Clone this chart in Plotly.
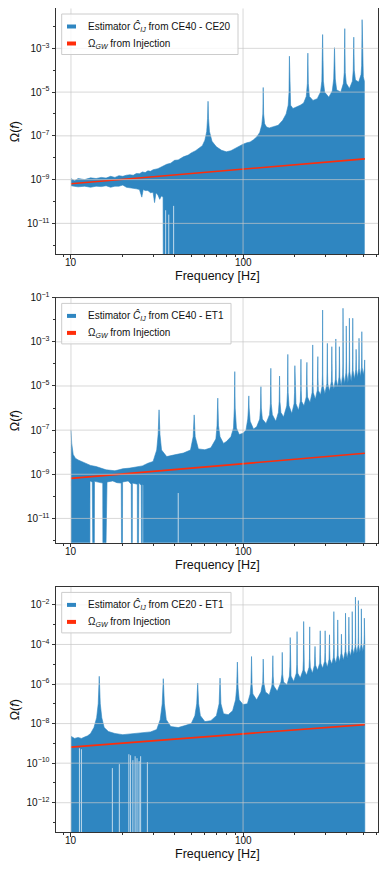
import numpy as np
import plotly.graph_objects as go
from plotly.subplots import make_subplots

# ---- data (frequency in Hz, log10 of Omega) ----
# floor value stands for negative estimates that drop off the log axis
FLOOR = -20

# CE40 - CE20
ce40_ce20_freq = [10, 10.5, 11, 12, 13, 14, 15, 16, 17, 18, 19, 20, 21, 22, 23, 24, 25, 26, 27, 28, 29, 30,
                  32, 34, 36, 38, 40, 42, 45, 48, 50, 53, 55, 58, 60, 61.5, 62.2, 62.6, 63.0, 63.8, 66, 70, 75,
                  80, 85, 90, 95, 100, 105, 110, 115, 120, 125, 128.5, 130.3, 131, 131.7, 133.5, 137, 142, 150,
                  160, 170, 178, 183, 185, 186, 187, 189, 195, 205, 215, 225, 233, 236.5, 238, 239.5, 243, 255,
                  270, 282, 287, 290, 293, 298, 315, 330, 336.5, 340, 343.5, 350, 370, 383, 387.5, 390, 392.5,
                  398, 415, 432, 437, 440, 443, 450, 470, 485, 489, 492, 495, 500, 507]
ce40_ce20_upper = [-8.95, -9.05, -8.95, -9.0, -8.92, -8.95, -8.9, -8.93, -8.85, -8.9, -8.82, -8.85, -8.8, -8.78,
                   -8.8, -8.72, -8.73, -8.65, -8.68, -8.6, -8.62, -8.55, -8.5, -8.4, -8.3, -8.25, -8.12, -8.1,
                   -7.96, -7.88, -7.78, -7.68, -7.6, -7.45, -7.2, -6.8, -6.2, -5.42, -6.2, -6.8, -7.25, -7.5,
                   -7.66, -7.73, -7.68, -7.58, -7.45, -7.38, -7.32, -7.28, -7.18, -7.05, -6.85, -6.5, -6.0,
                   -4.79, -6.0, -6.45, -6.6, -6.64, -6.58, -6.52, -6.29, -6.0, -5.6, -5.0, -3.36, -5.0, -5.6,
                   -5.75, -5.68, -5.6, -5.5, -5.2, -4.6, -3.22, -4.6, -5.2, -5.38, -5.3, -5.0, -4.5, -2.37,
                   -4.5, -5.0, -5.23, -4.95, -4.4, -2.97, -4.4, -4.9, -5.0, -4.6, -4.1, -2.10, -4.1, -4.6,
                   -4.84, -4.5, -4.0, -2.49, -4.0, -4.45, -4.54, -4.2, -3.8, -1.69, -3.8, -4.3, -4.5]
ce40_ce20_lower_freq = [10, 11, 12, 13, 14, 15, 16, 17, 18, 19, 20, 21, 22, 23, 24, 25, 25.8, 26.3, 27, 28,
                        29, 30, 30.6, 31.2, 32, 32.8, 33.5, 34.3, 34.6, 507]
ce40_ce20_lower = [-9.28, -9.33, -9.3, -9.35, -9.3, -9.32, -9.28, -9.35, -9.3, -9.3, -9.25, -9.35, -9.38,
                   -9.4, -9.42, -9.45, -9.8, -9.45, -9.5, -9.5, -9.6, -9.58, -10.05, -9.6, -9.7, -9.9, -9.75,
                   -9.8, FLOOR, FLOOR]
# thin empty slivers (single negative bins) inside the filled region
ce40_ce20_gap_freq = [35.5, 37.0, 39.5]
ce40_ce20_gap_top = [-10.4, -10.6, -10.2]

# CE40 - ET1
ce40_et1_freq = [10, 10.1, 10.3, 10.6, 11, 11.5, 12, 13, 14, 15, 16, 17, 18, 19, 20, 22, 24, 26, 28, 30,
                 31.5, 32.1, 32.5, 32.9, 33.6, 36, 40, 45, 49.5, 51.3, 52, 52.7, 55, 60, 65, 69.5, 70.6, 71.3,
                 72, 73.5, 77, 80, 85, 88, 89, 89.5, 90, 91.5, 95, 100, 104, 106.5, 107.5, 108, 108.5, 110,
                 115, 120, 125, 126.3, 127, 127.7, 129.5, 136, 142.5, 144.2, 145, 145.8, 148, 155, 160.5,
                 162.2, 163, 163.8, 166, 172, 179.5, 181.2, 182, 182.8, 185, 192, 198, 199.2, 200, 200.8, 203,
                 210, 215, 216.2, 217, 217.8, 219, 226, 233, 234.2, 235, 235.8, 237, 245, 252, 253.2, 254,
                 254.8, 256, 263, 270, 271.2, 272, 272.8, 274, 282, 288, 289.2, 290, 290.8, 292, 299, 307,
                 308.2, 309, 309.8, 311, 318, 326, 327.2, 328, 328.8, 330, 337, 344, 345.2, 346, 346.8, 348,
                 355, 361, 362.2, 363, 363.8, 365, 372, 379, 380.2, 381, 381.8, 383, 390, 396, 397.2, 398,
                 398.8, 400, 407, 413, 414.2, 415, 415.8, 417, 425, 432, 433.2, 434, 434.8, 436, 444, 452,
                 453.2, 454, 454.8, 456, 463, 470, 471.2, 472, 472.8, 474, 481, 488, 489.2, 490, 490.8, 492,
                 500, 507, 509, 510]
ce40_et1_upper = [-7.0, -7.6, -8.1, -8.27, -8.35, -8.42, -8.5, -8.6, -8.65, -8.72, -8.8, -8.82, -8.84, -8.8,
                  -8.75, -8.72, -8.68, -8.62, -8.5, -8.42, -7.9, -7.2, -6.08, -7.2, -7.9, -8.2, -8.12, -8.04,
                  -7.9, -7.3, -6.31, -7.3, -7.85, -7.89, -7.8, -7.4, -6.8, -5.55, -6.8, -7.3, -7.6, -7.52,
                  -7.3, -6.9, -6.0, -4.35, -6.0, -6.9, -7.2, -7.14, -7.0, -6.5, -6.0, -5.45, -6.0, -6.6,
                  -6.95, -6.85, -6.5, -6.0, -5.03, -6.0, -6.5, -6.7, -6.3, -5.8, -4.2, -5.8, -6.3, -6.6, -6.2,
                  -5.7, -4.55, -5.7, -6.2, -6.4, -5.9, -5.3, -3.57, -5.3, -5.9, -6.25, -5.8, -5.3, -4.08,
                  -5.3, -5.8, -6.1, -5.7, -5.2, -3.79, -5.2, -5.7, -5.9, -5.5, -5.0, -3.93, -5.0, -5.5, -5.75,
                  -5.3, -4.8, -3.14, -4.8, -5.3, -5.6, -5.2, -4.7, -3.67, -4.7, -5.2, -5.4, -5.0, -4.5, -1.56,
                  -4.5, -5.0, -5.35, -4.9, -4.4, -3.07, -4.4, -4.9, -5.25, -4.8, -4.3, -3.22, -4.3, -4.8,
                  -5.15, -4.7, -4.2, -2.87, -4.2, -4.7, -5.05, -4.6, -4.1, -3.22, -4.1, -4.6, -5.0, -4.5,
                  -4.0, -1.48, -4.0, -4.5, -4.9, -4.4, -3.9, -2.28, -3.9, -4.4, -4.85, -4.35, -3.85, -1.93,
                  -3.85, -4.35, -4.8, -4.3, -3.8, -1.93, -3.8, -4.3, -4.7, -4.25, -3.8, -3.34, -3.8, -4.25,
                  -4.62, -4.2, -3.75, -2.84, -3.75, -4.2, -4.58, -4.15, -3.7, -2.54, -3.7, -4.15, -4.5, -4.2,
                  -3.82, -4.3]
ce40_et1_lower_freq = [10, 12.85, 12.9, 13.3, 13.4, 13.6, 13.7, 15.3, 15.4, 16.1, 16.2, 17.5, 18.5, 19.6,
                       19.7, 19.85, 19.95, 21.5, 22.4, 22.5, 22.65, 22.75, 24.3, 24.4, 24.7, 24.8, 25.6, 25.7,
                       25.9, 26.0, 26.3, 26.35, 510]
ce40_et1_lower = [FLOOR, FLOOR, -9.3, -9.35, FLOOR, FLOOR, -9.32, -9.4, FLOOR, FLOOR, -9.35, -9.3, -9.38,
                  -9.4, FLOOR, FLOOR, -9.35, -9.3, -9.45, FLOOR, FLOOR, -9.4, -9.45, FLOOR, FLOOR, -9.4, -9.5,
                  FLOOR, FLOOR, -9.45, -9.5, FLOOR, FLOOR]
ce40_et1_gap_freq = [42.0]
ce40_et1_gap_top = [-9.85]

# CE20 - ET1
ce20_et1_freq = [10, 10.5, 11, 11.5, 12, 12.5, 13, 13.6, 14.1, 14.4, 14.6, 14.8, 15.1, 15.6, 16.5, 18, 20, 23,
                 26, 29, 31.5, 33, 33.9, 34.4, 34.9, 35.8, 38, 42, 46, 50, 52.5, 53.8, 54.5, 55.2, 56.5, 60,
                 65, 70, 72.6, 73.5, 74.4, 77, 82, 87, 90.5, 91.8, 92.7, 93.6, 95, 100, 106, 110, 111.2, 112,
                 112.8, 114, 120, 127, 130.2, 131, 131.8, 135, 142, 147, 148.3, 149, 149.7, 151, 158, 166,
                 168.2, 169, 169.8, 172, 180, 186, 187.2, 188, 188.8, 190, 197, 204, 205.2, 206, 206.8, 208,
                 215, 223, 224.2, 225, 225.8, 227, 234, 242, 243.2, 244, 244.8, 246, 253, 260, 261.2, 262,
                 262.8, 264, 271, 279, 280.2, 281, 281.8, 283, 290, 298, 299.2, 300, 300.8, 302, 309, 316,
                 317.2, 318, 318.8, 320, 328, 335, 336.2, 337, 337.8, 339, 346, 353, 354.2, 355, 355.8, 357,
                 364, 371, 372.2, 373, 373.8, 375, 383, 392, 393.2, 394, 394.8, 396, 403, 410, 411.2, 412,
                 412.8, 414, 421, 429, 430.2, 431, 431.8, 433, 440, 448, 449.2, 450, 450.8, 452, 459, 466,
                 467.2, 468, 468.8, 470, 477, 485, 486.2, 487, 487.8, 489, 497, 505, 506.2, 507, 507.8, 510]
ce20_et1_upper = [-8.64, -8.75, -8.7, -8.75, -8.68, -8.62, -8.5, -8.2, -7.7, -7.0, -5.61, -7.0, -7.7, -8.2,
                  -8.4, -8.5, -8.56, -8.52, -8.45, -8.42, -8.3, -7.8, -7.0, -5.73, -7.0, -7.8, -8.15, -8.2,
                  -8.1, -8.0, -7.6, -7.0, -5.95, -7.0, -7.6, -7.9, -7.85, -7.6, -7.0, -5.70, -7.0, -7.5,
                  -7.55, -7.35, -6.8, -6.2, -4.89, -6.2, -6.8, -7.04, -7.0, -6.5, -6.0, -4.61, -6.0, -6.5,
                  -6.8, -6.4, -5.9, -4.74, -5.9, -6.4, -6.55, -6.1, -5.6, -4.57, -5.6, -6.1, -6.37, -5.9,
                  -5.5, -4.40, -5.5, -5.9, -6.05, -5.6, -5.1, -3.65, -5.1, -5.6, -5.87, -5.45, -5.0, -3.35,
                  -5.0, -5.45, -5.7, -5.3, -4.8, -2.84, -4.8, -5.3, -5.55, -5.15, -4.7, -3.11, -4.7, -5.15,
                  -5.45, -5.05, -4.6, -4.10, -4.6, -5.05, -5.3, -4.95, -4.5, -3.31, -4.5, -4.95, -5.2, -4.85,
                  -4.4, -3.31, -4.4, -4.85, -5.15, -4.75, -4.3, -3.51, -4.3, -4.75, -5.0, -4.65, -4.2, -2.34,
                  -4.2, -4.65, -4.95, -4.55, -4.1, -2.76, -4.1, -4.55, -4.88, -4.45, -4.0, -3.48, -4.0, -4.45,
                  -4.8, -4.35, -3.9, -2.42, -3.9, -4.35, -4.7, -4.3, -3.85, -2.62, -3.85, -4.3, -4.6, -4.2,
                  -3.75, -2.34, -3.75, -4.2, -4.5, -4.1, -3.65, -1.61, -3.65, -4.1, -4.45, -4.05, -3.6, -1.78,
                  -3.6, -4.05, -4.4, -4.0, -3.55, -2.2, -3.55, -4.0, -4.35, -3.9, -3.5, -2.67, -3.5, -4.0]
ce20_et1_lower_freq = [10, 510]
ce20_et1_lower = [FLOOR, FLOOR]
ce20_et1_gap_freq = [11.2, 11.5, 17.4, 19.1, 21.7, 22.2, 22.9, 23.6, 24.2, 24.9, 25.4, 27.8]
ce20_et1_gap_top = [-9.25, -9.3, -10.25, -10.05, -9.55, -9.6, -9.85, -9.65, -9.75, -9.9, -9.65, -9.95]

# injected power law, same in every panel
injection_freq = [10, 100, 510]
injection_omega = [6.5e-10, 3.0e-9, 8.9e-9]

panels = [
    ("CE40 - CE20", ce40_ce20_freq, ce40_ce20_upper, ce40_ce20_lower_freq, ce40_ce20_lower,
     ce40_ce20_gap_freq, ce40_ce20_gap_top),
    ("CE40 - ET1", ce40_et1_freq, ce40_et1_upper, ce40_et1_lower_freq, ce40_et1_lower,
     ce40_et1_gap_freq, ce40_et1_gap_top),
    ("CE20 - ET1", ce20_et1_freq, ce20_et1_upper, ce20_et1_lower_freq, ce20_et1_lower,
     ce20_et1_gap_freq, ce20_et1_gap_top),
]
x_ticks = [10, 100]
y_ticks = [[-3, -5, -7, -9, -11], [-1, -3, -5, -7, -9, -11], [-2, -4, -6, -8, -10, -12]]
y_ranges = [[-12.4, -1.17], [-12.1, -1.0], [-13.48, -1.08]]
x_range = [0.913, 2.786]

# ---- layout geometry ----
# the page body has an 8px margin, so the figure sits at (8, 8) in the window
OFF = 8
W, H = 380, 864
panel_px = [(8.3, 254.0), (297.7, 542.7), (586.7, 832.0)]   # top/bottom of each frame (window px)
left_px, right_px = 56.0, 378.3
legend_right_px = [238, 231, 231]


def px_x(p):
    return (p - OFF) / W


def px_y(p):
    return 1 - (p - OFF) / H


BLUE = "rgb(47,134,193)"
RED = "#ff2d0a"
GRID = "rgba(200,200,200,0.7)"
FONT = "Liberation Sans, Arial, sans-serif"
TXT = "#111111"

fig = make_subplots(rows=3, cols=1)

for i, (pair, f, up, lf, lo, gf, gt) in enumerate(panels):
    row = i + 1
    top, bot = panel_px[i]
    poly_x = list(f) + list(lf[::-1])
    poly_y = np.power(10.0, np.array(list(up) + list(lo[::-1]), dtype=float))
    fig.add_trace(go.Scatter(
        x=poly_x, y=poly_y, mode="lines", fill="toself", fillcolor=BLUE,
        line=dict(color=BLUE, width=0.6), showlegend=False, hoverinfo="skip"), row=row, col=1)

    # negative single bins show up as thin pale slivers
    gx, gy = [], []
    for fr, tp in zip(gf, gt):
        gx += [fr, fr, None]
        gy += [10.0 ** FLOOR, 10.0 ** tp, None]
    fig.add_trace(go.Scatter(
        x=gx, y=gy, mode="lines", line=dict(color="rgba(255,255,255,0.7)", width=1),
        showlegend=False, hoverinfo="skip"), row=row, col=1)

    fig.add_trace(go.Scatter(
        x=injection_freq, y=injection_omega, mode="lines",
        line=dict(color=RED, width=1.6), showlegend=False), row=row, col=1)

    ax = "" if row == 1 else str(row)
    fig.update_xaxes(
        type="log", range=x_range, domain=[px_x(left_px), px_x(right_px)], automargin=False,
        tickvals=x_ticks, showticklabels=False, ticks="outside", ticklen=3.5, tickcolor="#333",
        minor=dict(tickvals=[9, 20, 30, 40, 50, 60, 70, 80, 90, 200, 300, 400, 500, 600],
                   ticks="outside", ticklen=2, tickcolor="#333"),
        showgrid=False, zeroline=False, showline=True, mirror=True,
        linecolor="#333", linewidth=1, layer="above traces", row=row, col=1)
    fig.update_yaxes(
        type="log", range=y_ranges[i], domain=[px_y(bot), px_y(top)], automargin=False,
        tickvals=[10.0 ** e for e in y_ticks[i]],
        ticktext=[f"10<sup>−{-e}</sup>" for e in y_ticks[i]],
        ticks="outside", ticklen=3.5, tickcolor="#333", tickfont=dict(size=10, color=TXT),
        minor=dict(tickvals=[10.0 ** (e + 1) for e in y_ticks[i]] + [10.0 ** (y_ticks[i][-1] - 1)],
                   ticks="outside", ticklen=2, tickcolor="#333"),
        showgrid=False, zeroline=False, showline=True, mirror=True,
        linecolor="#333", linewidth=1, layer="above traces", row=row, col=1)

    # x tick labels placed just under the frame (annotation x is log10 on a log axis)
    for xv in x_ticks:
        fig.add_annotation(text=str(xv), xref=f"x{ax}", yref="paper", x=np.log10(xv),
                           y=px_y(bot + 8.7), xanchor="center", yanchor="middle",
                           showarrow=False, font=dict(size=10, color=TXT))

    # grid drawn over the filled spectrum, as in the original
    y_lo, y_hi = 10.0 ** y_ranges[i][0], 10.0 ** y_ranges[i][1]
    x_lo, x_hi = 10.0 ** x_range[0], 10.0 ** x_range[1]
    for e in y_ticks[i]:
        fig.add_shape(type="line", xref=f"x{ax}", x0=x_lo, x1=x_hi, yref=f"y{ax}",
                      y0=10.0 ** e, y1=10.0 ** e, layer="above", line=dict(color=GRID, width=1))
    for xv in x_ticks:
        fig.add_shape(type="line", yref=f"y{ax}", y0=y_lo, y1=y_hi, xref=f"x{ax}",
                      x0=xv, x1=xv, layer="above", line=dict(color=GRID, width=1))

    # axis titles
    fig.add_annotation(text="Frequency [Hz]", xref="paper", yref="paper",
                       x=px_x((left_px + right_px) / 2), y=px_y(bot + 22), xanchor="center",
                       yanchor="middle", showarrow=False, font=dict(size=12.5, color=TXT))
    fig.add_annotation(text="Ω(<i>f</i>)", xref="paper", yref="paper", textangle=-90,
                       x=px_x(15), y=px_y((top + bot) / 2), xanchor="center", yanchor="middle",
                       showarrow=False, font=dict(size=12.5, color=TXT))

    # legend box in the upper left corner
    lt = top + 5.7
    fig.add_shape(type="rect", xref="paper", yref="paper", layer="above",
                  x0=px_x(61.7), x1=px_x(legend_right_px[i]), y0=px_y(lt + 40.5), y1=px_y(lt),
                  fillcolor="rgba(255,255,255,0.8)", line=dict(color="#cccccc", width=1))
    entries = [(BLUE, f"Estimator <i>Ĉ</i><sub><i>IJ</i></sub> from {pair}", lt + 12.5),
               (RED, "Ω<sub><i>GW</i></sub> from Injection", lt + 29.5)]
    for color, label, cy in entries:
        fig.add_shape(type="rect", xref="paper", yref="paper", layer="above",
                      x0=px_x(67), x1=px_x(76), y0=px_y(cy + 2), y1=px_y(cy - 2),
                      fillcolor=color, line=dict(width=0))
        fig.add_annotation(text=label, xref="paper", yref="paper", x=px_x(85.5), y=px_y(cy),
                           xanchor="left", yanchor="middle", showarrow=False,
                           font=dict(size=10, color=TXT))

fig.update_layout(
    template="none",
    width=W, height=H, margin=dict(l=0, r=0, t=0, b=0, autoexpand=False),
    paper_bgcolor="white", plot_bgcolor="white",
    font=dict(family=FONT, color=TXT),
    showlegend=False,
)

fig.write_html("out.html")
